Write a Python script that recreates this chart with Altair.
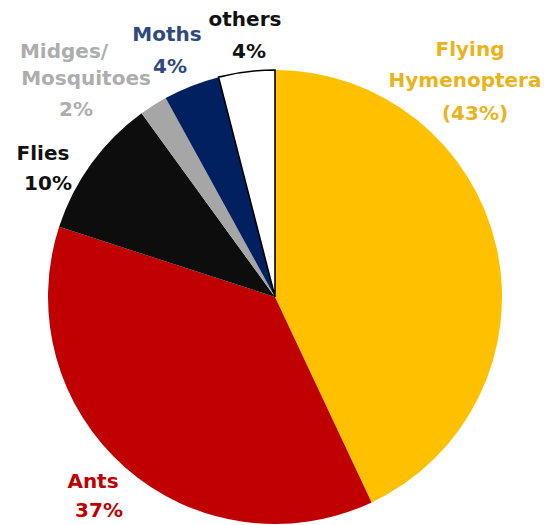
import altair as alt
import pandas as pd

categories = ["Flying Hymenoptera", "Ants", "Flies", "Midges/Mosquitoes", "Moths", "others"]
values = [43, 37, 10, 2, 4, 4]
fill_colors = ["#FFC000", "#C00000", "#0D0D0D", "#A6A6A6", "#002060", "#FFFFFF"]
text_colors = ["#EBB31A", "#C00000", "#111111", "#ADADAD", "#2E4A7E", "#111111"]

# label lines per category (text built from the data), with layout positions (chart px)
label_lines = {
    "Flying Hymenoptera": ["Flying", "Hymenoptera", "({v}%)"],
    "Ants": ["Ants", "{v}%"],
    "Flies": ["Flies", "{v}%"],
    "Midges/Mosquitoes": ["Midges/", "Mosquitoes", "{v}%"],
    "Moths": ["Moths", "{v}%"],
    "others": ["others", "{v}%"],
}
label_layout = {
    "Flying Hymenoptera": [(462, 42), (457, 73), (467, 106)],
    "Ants": [(85, 474), (91, 503)],
    "Flies": [(35, 146), (40, 176)],
    "Midges/Mosquitoes": [(56, 44), (78, 71), (68, 102)],
    "Moths": [(159, 27), (162, 59)],
    "others": [(237, 12), (241, 44)],
}

pie_df = pd.DataFrame({
    "cat": categories,
    "value": values,
    "idx": list(range(len(categories))),
    "fill": fill_colors,
})

rows = []
for c, v, tc in zip(categories, values, text_colors):
    for line, (x, y) in zip(label_lines[c], label_layout[c]):
        rows.append({"t": line.format(v=v), "x": x, "y": y, "color": tc})
lab_df = pd.DataFrame(rows)

CX, CY, R = 267, 289, 227

pie = alt.Chart(pie_df).mark_arc(outerRadius=R).encode(
    theta=alt.Theta("value:Q", stack=True),
    order=alt.Order("idx:Q", sort="ascending"),
    color=alt.Color("fill:N", scale=None),
    stroke=alt.value("#000000"),
    strokeWidth=alt.condition(alt.datum.cat == "others", alt.value(1.6), alt.value(0)),
    x=alt.value(CX),
    y=alt.value(CY),
)

labels = alt.Chart(lab_df).mark_text(
    font="DejaVu Sans", fontSize=20, fontWeight="bold", align="center", baseline="middle"
).encode(
    x=alt.X("x:Q", scale=None),
    y=alt.Y("y:Q", scale=None),
    text="t:N",
    color=alt.Color("color:N", scale=None),
)

chart = alt.layer(pie, labels).properties(
    width=535, height=517,
    autosize=alt.AutoSizeParams(type="none"),
    padding=0,
).configure_view(stroke=None)

chart.save("out.html", embed_options={"renderer": "svg", "actions": False})
